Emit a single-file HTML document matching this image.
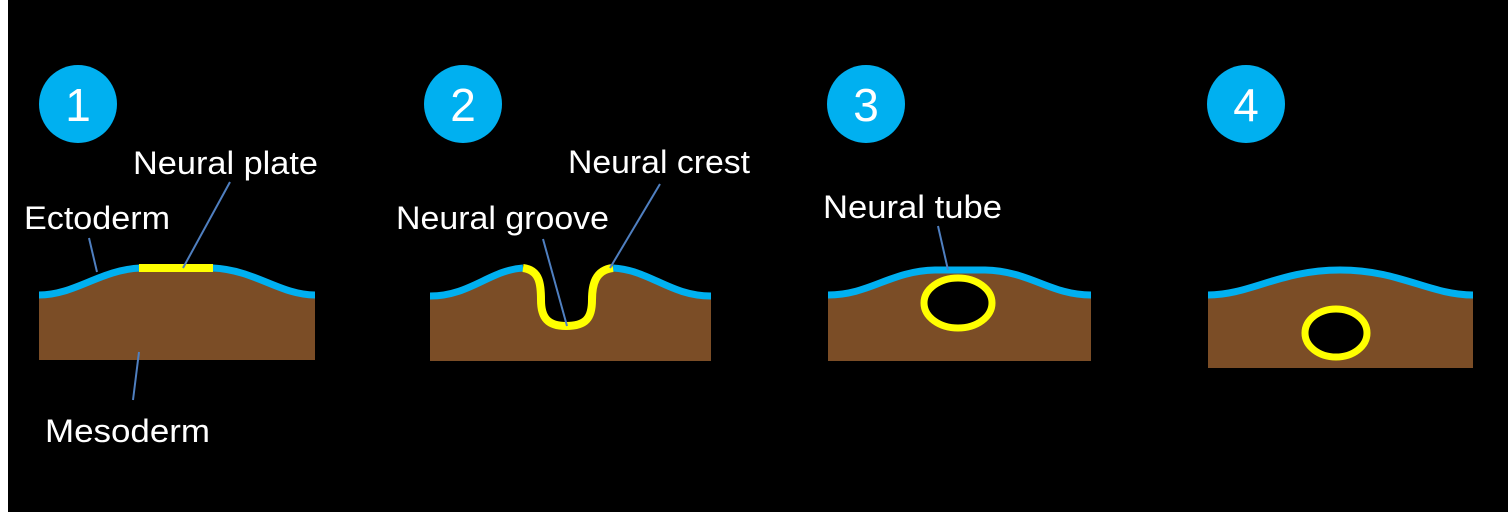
<!DOCTYPE html>
<html><head><style>
html,body{margin:0;padding:0;background:#000;}
svg{display:block;}
text{font-family:"Liberation Sans",sans-serif;fill:#fff;}
</style></head><body>
<svg width="1508" height="512" viewBox="0 0 1508 512" xmlns="http://www.w3.org/2000/svg">
<rect x="0" y="0" width="1508" height="512" fill="#000"/>
<rect x="0" y="0" width="8" height="512" fill="#fff"/>

<g fill="#00b0f0">
<circle cx="78" cy="104" r="39"/><circle cx="463" cy="104" r="39"/>
<circle cx="866" cy="104" r="39"/><circle cx="1246" cy="104" r="39"/>
</g>
<g font-size="46" text-anchor="middle">
<text x="78" y="121">1</text><text x="463" y="121">2</text>
<text x="866" y="121">3</text><text x="1246" y="121">4</text>
</g>

<!-- panel 1 -->
<path d="M39 295 C75 295 100 270 140 268 L213 268 C255 270 280 295 315 295 L315 360 L39 360 Z" fill="#7b4d26"/>
<path d="M39 295 C75 295 100 270 140 268 L213 268 C255 270 280 295 315 295" fill="none" stroke="#00b0f0" stroke-width="7"/>
<line x1="139" y1="268" x2="213" y2="268" stroke="#ffff00" stroke-width="8"/>

<!-- panel 2 -->
<path d="M430 296 C470 296 490 270 523 268 C540 270 541 285 541 300 C541 318 548 326 566 326 C586 326 592 318 592 300 C592 285 595 270 613 268 C650 270 670 296 711 296 L711 361 L430 361 Z" fill="#7b4d26"/>
<path d="M430 296 C470 296 490 270 523 268 M613 268 C650 270 670 296 711 296" fill="none" stroke="#00b0f0" stroke-width="7"/>
<path d="M523 268 C540 270 541 285 541 300 C541 318 548 326 566 326 C586 326 592 318 592 300 C592 285 595 270 613 268" fill="none" stroke="#ffff00" stroke-width="8"/>

<!-- panel 3 -->
<path d="M828 295 C870 295 890 271 935 270 L985 270 C1030 271 1050 295 1091 295 L1091 361 L828 361 Z" fill="#7b4d26"/>
<path d="M828 295 C870 295 890 271 935 270 L985 270 C1030 271 1050 295 1091 295" fill="none" stroke="#00b0f0" stroke-width="7"/>
<ellipse cx="958" cy="303" rx="34" ry="25" fill="#000" stroke="#ffff00" stroke-width="7"/>

<!-- panel 4 -->
<path d="M1208 295 C1250 295 1280 270 1340 270 C1400 270 1430 295 1473 295 L1473 368 L1208 368 Z" fill="#7b4d26"/>
<path d="M1208 295 C1250 295 1280 270 1340 270 C1400 270 1430 295 1473 295" fill="none" stroke="#00b0f0" stroke-width="7"/>
<ellipse cx="1336" cy="333" rx="31" ry="24" fill="#000" stroke="#ffff00" stroke-width="7"/>

<g stroke="#4f7fc0" stroke-width="2">
<line x1="89" y1="238" x2="97" y2="272"/>
<line x1="230" y1="182" x2="183" y2="268"/>
<line x1="139" y1="352" x2="133" y2="400"/>
<line x1="543" y1="239" x2="567" y2="326"/>
<line x1="660" y1="184" x2="610" y2="268"/>
<line x1="938" y1="226" x2="948" y2="270"/>
</g>

<g font-size="32">
<text x="133" y="174" textLength="185" lengthAdjust="spacingAndGlyphs">Neural plate</text>
<text x="24" y="229" textLength="146" lengthAdjust="spacingAndGlyphs">Ectoderm</text>
<text x="45" y="442" textLength="165" lengthAdjust="spacingAndGlyphs">Mesoderm</text>
<text x="396" y="229" textLength="213" lengthAdjust="spacingAndGlyphs">Neural groove</text>
<text x="568" y="173" textLength="182" lengthAdjust="spacingAndGlyphs">Neural crest</text>
<text x="823" y="218" textLength="179" lengthAdjust="spacingAndGlyphs">Neural tube</text>
</g>
</svg>
</body></html>
